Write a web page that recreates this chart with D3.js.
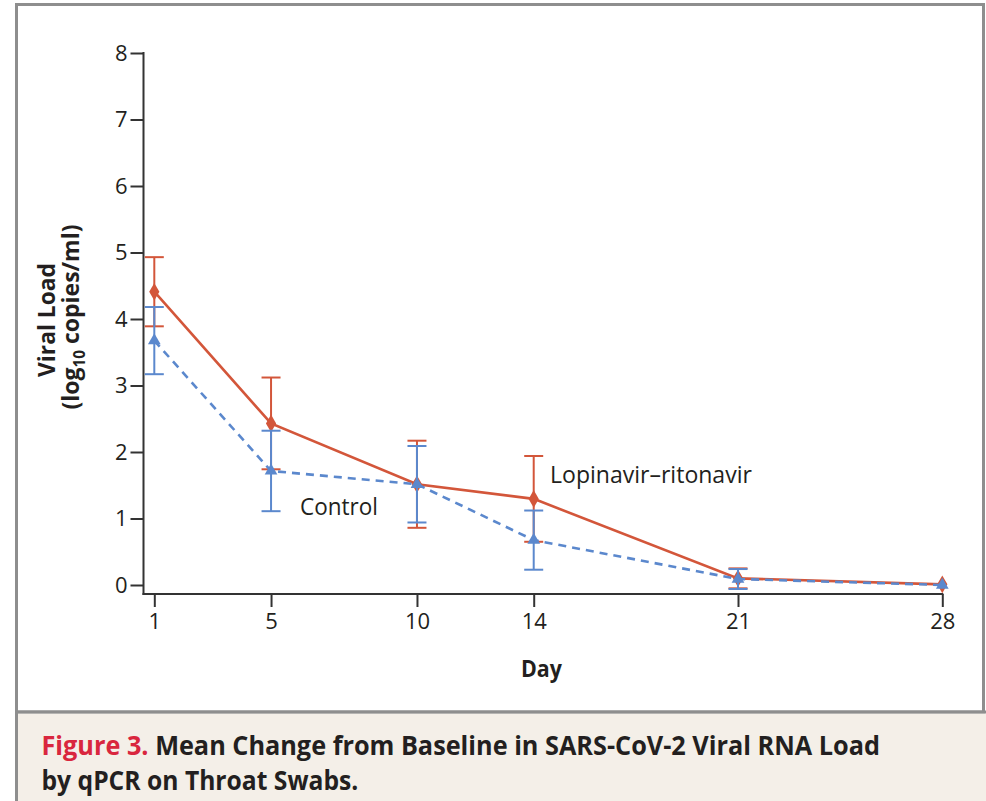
<!DOCTYPE html>
<html>
<head>
<meta charset="utf-8">
<script src="https://cdn.jsdelivr.net/npm/d3@7"></script>
<style>
  html, body { margin: 0; padding: 0; background: #fff; }
  svg { display: block; }
  text { font-family: "Open Sans", "Noto Sans", sans-serif; }
</style>
</head>
<body>
<svg id="chart" width="986" height="801"></svg>
<script>
// Study days on the x axis
const days = [1, 5, 10, 14, 21, 28];
const xTickLabels = ["1", "5", "10", "14", "21", "28"];
const yTickValues = [0, 1, 2, 3, 4, 5, 6, 7, 8];

// Mean viral load (log10 copies/ml) and error-bar half widths per arm
const lopinavirMean = [4.41, 2.43, 1.515, 1.295, 0.10, 0.01];
const lopinavirErr  = [0.52, 0.69, 0.655, 0.645, 0.15, 0];
const controlMean   = [3.675, 1.715, 1.515, 0.675, 0.09, 0.0];
const controlErr    = [0.505, 0.605, 0.575, 0.445, 0.15, 0];

const seriesNames = ["Lopinavir\u2013ritonavir", "Control"];

const RED = "#d3563a";
const BLUE = "#5b88cd";
const INK = "#231f20";
const AXIS = "#333333";

const svg = d3.select("#chart");

// Panel frame and caption band
svg.append("rect").attr("x", 16.5).attr("y", 4.5).attr("width", 967).attr("height", 707.5)
  .attr("fill", "#fff").attr("stroke", "#8e8e8e").attr("stroke-width", 3);
svg.append("rect").attr("x", 18).attr("y", 713.5).attr("width", 968).attr("height", 88)
  .attr("fill", "#f4efe8");
svg.append("line").attr("x1", 16.5).attr("x2", 16.5).attr("y1", 711).attr("y2", 801)
  .attr("stroke", "#8e8e8e").attr("stroke-width", 3);
svg.append("line").attr("x1", 15).attr("x2", 986).attr("y1", 712).attr("y2", 712)
  .attr("stroke", "#8e8e8e").attr("stroke-width", 3);

// Scales
const x = d3.scaleLinear().domain([1, 28]).range([154.3, 942.3]);
const y = d3.scaleLinear().domain([0, 8]).range([585, 53]);
const xAxisY = 594;
const yAxisX = 143.5;

// Scale a text group horizontally so that it spans a given width
function fitText(parent, tx, ty, rot, anchor, width, build) {
  const g = parent.append("g");
  const t = g.append("text").attr("text-anchor", anchor);
  build(t);
  const w = t.node().getComputedTextLength();
  const sx = width / w;
  g.attr("transform", `translate(${tx},${ty}) rotate(${rot}) scale(${sx},1)`);
  return t;
}

// Y axis
const yAxis = d3.axisLeft(y).tickValues(yTickValues).tickSize(13).tickPadding(3)
  .tickFormat(d3.format("d"));
const gy = svg.append("g").attr("transform", `translate(${yAxisX},0)`).call(yAxis);
gy.select(".domain").remove();
gy.append("line").attr("x1", 0).attr("x2", 0).attr("y1", y(8) - 1).attr("y2", xAxisY + 1)
  .attr("stroke", AXIS).attr("stroke-width", 2);
gy.selectAll(".tick line").attr("stroke", AXIS).attr("stroke-width", 2);
gy.selectAll(".tick text").attr("fill", INK).attr("font-size", 22)
  .attr("font-family", "'Open Sans', sans-serif");

// X axis
const xAxis = d3.axisBottom(x).tickValues(days).tickSize(13).tickPadding(6)
  .tickFormat((d, i) => xTickLabels[i]);
const gx = svg.append("g").attr("transform", `translate(0,${xAxisY})`).call(xAxis);
gx.select(".domain").remove();
gx.append("line").attr("x1", yAxisX - 1).attr("x2", x(28) + 1).attr("y1", 0).attr("y2", 0)
  .attr("stroke", AXIS).attr("stroke-width", 2);
gx.selectAll(".tick line").attr("stroke", AXIS).attr("stroke-width", 2);
gx.selectAll(".tick text").attr("fill", INK).attr("font-size", 22)
  .attr("font-family", "'Open Sans', sans-serif");

// Axis titles
fitText(svg, 541.5, 677, 0, "middle", 41, t =>
  t.attr("font-weight", 700).attr("font-size", 24).attr("fill", INK).text("Day"));
fitText(svg, 55, 320, -90, "middle", 114, t =>
  t.attr("font-weight", 700).attr("font-size", 24).attr("fill", INK).text("Viral Load"));
fitText(svg, 79, 317, -90, "middle", 185, t => {
  t.attr("font-weight", 700).attr("font-size", 24).attr("fill", INK);
  t.append("tspan").text("(log");
  t.append("tspan").attr("font-size", 16).attr("dy", 6).text("10");
  t.append("tspan").attr("dy", -6).text(" copies/ml)");
});

// Data rows per arm
function rows(mean, err) {
  return days.map((d, i) => ({ day: d, mean: mean[i], err: err[i] }));
}
const arms = [
  { name: seriesNames[0], data: rows(lopinavirMean, lopinavirErr), color: RED,
    dash: null, symbol: d3.symbolDiamond, size: 90 },
  { name: seriesNames[1], data: rows(controlMean, controlErr), color: BLUE,
    dash: "8,6", symbol: d3.symbolTriangle, size: 70 }
];

const line = d3.line().x(d => x(d.day)).y(d => y(d.mean));
const capHalf = 9.5;

// Treatment arm drawn first, dashed control arm on top
arms.forEach(arm => {
  const g = svg.append("g");
  arm.data.filter(d => d.err > 0).forEach(d => {
    const top = y(d.mean + d.err), bot = y(d.mean - d.err), cx = x(d.day);
    g.append("line").attr("x1", cx).attr("x2", cx).attr("y1", top).attr("y2", bot)
      .attr("stroke", arm.color).attr("stroke-width", 2);
    [top, bot].forEach(yy => g.append("line")
      .attr("x1", cx - capHalf).attr("x2", cx + capHalf).attr("y1", yy).attr("y2", yy)
      .attr("stroke", arm.color).attr("stroke-width", 2));
  });
  g.append("path").datum(arm.data).attr("d", line).attr("fill", "none")
    .attr("stroke", arm.color).attr("stroke-width", 2.6)
    .attr("stroke-dasharray", arm.dash);
  g.selectAll("path.mk").data(arm.data).join("path").attr("class", "mk")
    .attr("d", d3.symbol().type(arm.symbol).size(arm.size))
    .attr("transform", d => `translate(${x(d.day)},${y(d.mean)})`)
    .attr("fill", arm.color);
});

// Series labels
fitText(svg, 300, 515, 0, "start", 78, t =>
  t.attr("font-size", 24).attr("fill", INK).text(seriesNames[1]));
fitText(svg, 550, 483, 0, "start", 202, t =>
  t.attr("font-size", 24).attr("fill", INK).text(seriesNames[0]));

// Caption
fitText(svg, 41.5, 754.5, 0, "start", 839, t => {
  t.attr("font-weight", 700).attr("font-size", 26);
  t.append("tspan").attr("fill", "#d9263e").text("Figure 3.");
  t.append("tspan").attr("fill", INK).text(" Mean Change from Baseline in SARS-CoV-2 Viral RNA Load");
});
fitText(svg, 41.5, 789.5, 0, "start", 317, t =>
  t.attr("font-weight", 700).attr("font-size", 26).attr("fill", INK)
    .text("by qPCR on Throat Swabs."));
</script>
</body>
</html>
